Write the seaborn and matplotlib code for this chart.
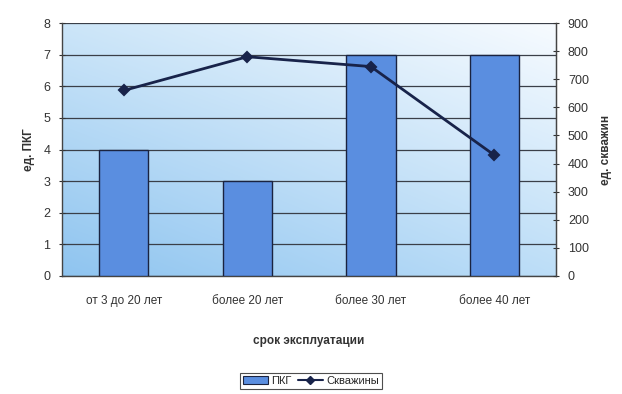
import numpy as np
import pandas as pd
import matplotlib
matplotlib.use("Agg")
import matplotlib.pyplot as plt
import seaborn as sns
from matplotlib.lines import Line2D
from matplotlib.patches import Patch

categories = ["от 3 до 20 лет", "более 20 лет", "более 30 лет", "более 40 лет"]
pkg_values = [4, 3, 7, 7]
well_values = [660, 780, 745, 430]

sns.set_style("white")
plt.rcParams['font.family'] = ['Liberation Sans', 'DejaVu Sans']

df = pd.DataFrame({"cat": categories, "pkg": pkg_values, "wells": well_values})

fig = plt.figure(figsize=(6.22, 3.94), dpi=100)
ax = fig.add_axes([0.0997, 0.2995, 0.7943, 0.6421])

# gradient background (row 0 = top)
tl = np.array([0.80, 0.90, 0.975]); tr = np.array([0.97, 0.985, 1.0])
bl = np.array([0.56, 0.77, 0.94]); br = np.array([0.74, 0.87, 0.97])
n = 200
xs = np.linspace(0, 1, n)[None, :, None]
ys = np.linspace(0, 1, n)[:, None, None]
grad = (1 - ys) * ((1 - xs) * tl + xs * tr) + ys * ((1 - xs) * bl + xs * br)
ax.imshow(grad, extent=[-0.5, 3.5, 0, 8], aspect='auto', zorder=0, origin='upper')

sns.barplot(data=df, x="cat", y="pkg", ax=ax, color="#5a8ee0", width=0.40,
            edgecolor="#1a2340", linewidth=1.0, saturation=1, zorder=3)
ax.set_ylim(0, 8)
ax.set_xlim(-0.5, 3.5)
ax.set_yticks(range(0, 9))
ax.yaxis.grid(True, color="#3a3f48", linewidth=0.9, zorder=1)
ax.set_axisbelow(True)
for c in ax.patches:
    c.set_zorder(3)

ax.set_xticks([-0.5, 0.5, 1.5, 2.5, 3.5])
ax.set_xticklabels([])
ax.set_xticks([0, 1, 2, 3], minor=True)
ax.set_xticklabels(categories, minor=True)
ax.tick_params(axis='x', which='minor', length=0, pad=14, labelsize=8.5, colors="#333333")
ax.tick_params(axis='x', which='major', length=5, direction='inout', color="#333333")
ax.tick_params(axis='y', length=5, direction='inout', labelsize=9, colors="#333333", pad=6)
ax.set_xlabel("срок эксплуатации", fontsize=8.5, fontweight='bold', color="#333333", labelpad=20)
ax.set_ylabel("ед. ПКГ", fontsize=8.5, fontweight='bold', color="#333333", labelpad=6)

for s in ["left", "bottom", "right"]:
    ax.spines[s].set_color("#444444"); ax.spines[s].set_linewidth(1)
ax.spines["top"].set_visible(False)

ax2 = ax.twinx()
sns.pointplot(data=df, x="cat", y="wells", ax=ax2, color="#18234a", markers="D",
              markersize=5, linewidth=2, errorbar=None)
ax2.set_xlim(-0.5, 3.5)
ax2.set_ylim(0, 900)
ax2.set_yticks(range(0, 901, 100))
ax2.tick_params(axis='y', length=5, direction='inout', labelsize=9, colors="#333333", pad=6)
ax2.set_ylabel("ед. скважин", fontsize=8.5, fontweight='bold', color="#333333", labelpad=8,
               rotation=90)
ax2.set_xlabel("")
for s in ["top", "left", "bottom"]:
    ax2.spines[s].set_visible(False)
ax2.spines["right"].set_color("#444444")

handles = [Patch(facecolor="#5a8ee0", edgecolor="#1a2340", linewidth=0.8),
           Line2D([0], [0], color="#18234a", lw=1.5, marker="D", markersize=4)]
leg = fig.legend(handles, ["ПКГ", "Скважины"], loc='center', bbox_to_anchor=(0.5, 0.033),
                 ncol=2, frameon=True, fancybox=False, fontsize=8, handlelength=2.2,
                 columnspacing=0.6, handletextpad=0.3, borderpad=0.3)
leg.get_frame().set_edgecolor("#222222")
leg.get_frame().set_linewidth(0.8)

fig.savefig("out.png", dpi=100)
